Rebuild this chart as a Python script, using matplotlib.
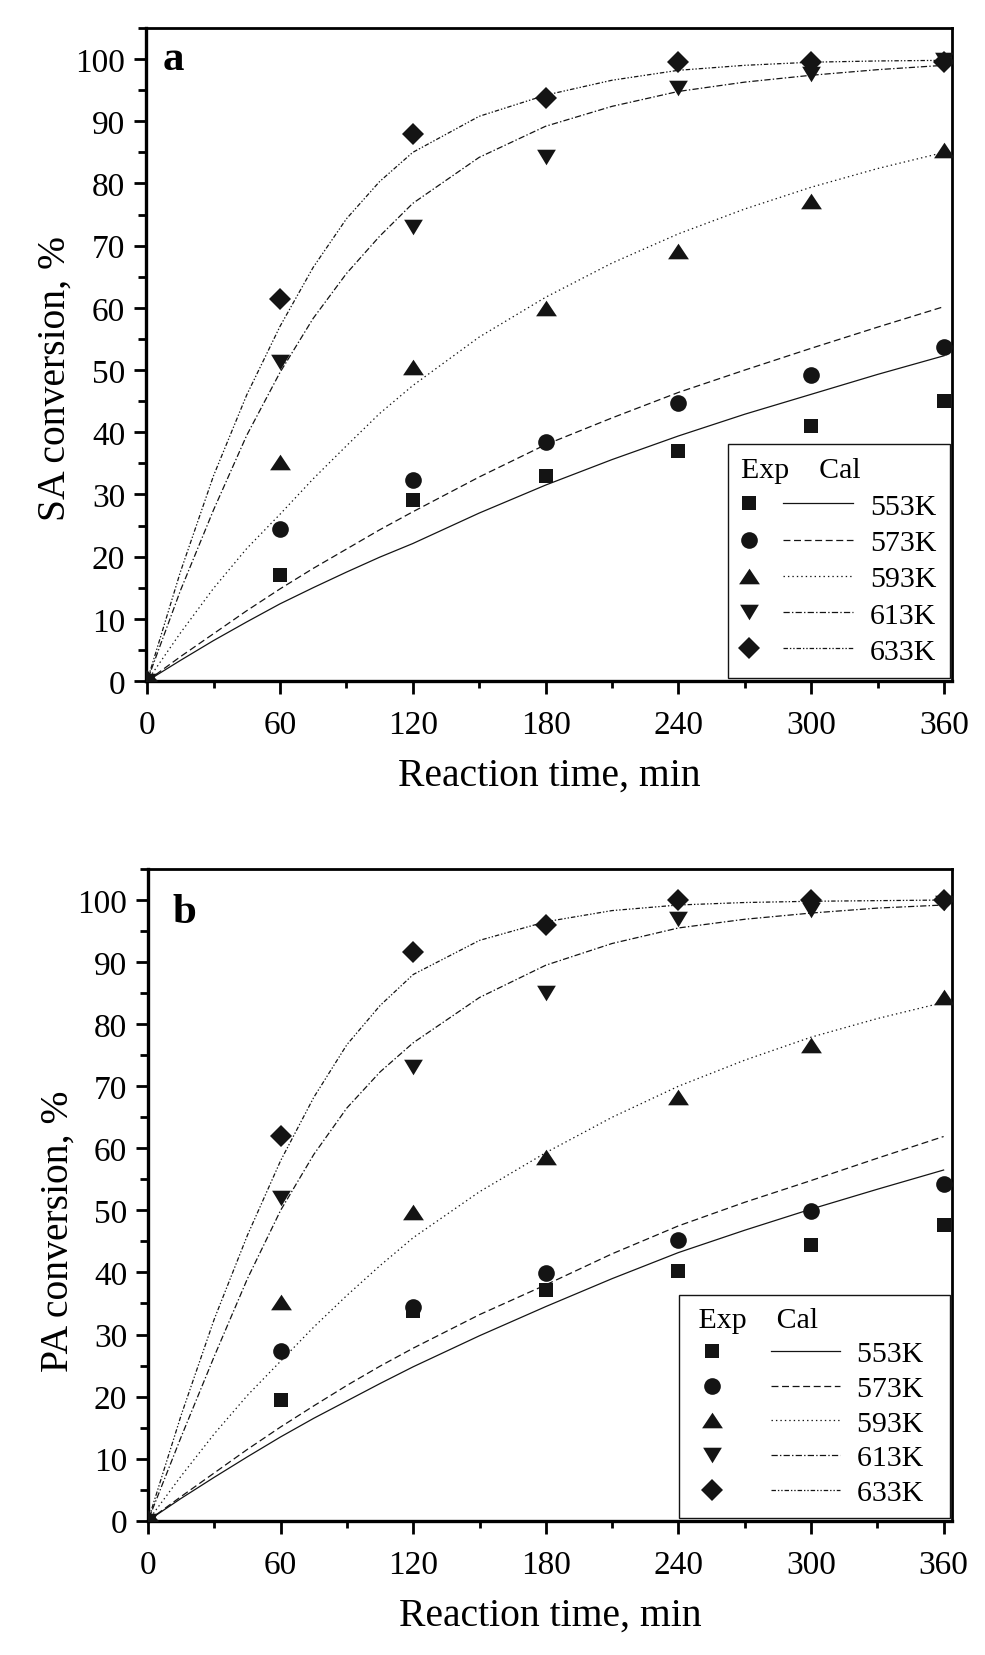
import numpy as np
import matplotlib
matplotlib.use("Agg")
import matplotlib.pyplot as plt
from matplotlib.ticker import MultipleLocator
from matplotlib.lines import Line2D
from matplotlib.path import Path
from matplotlib.legend_handler import HandlerBase

plt.rcParams['font.family'] = ['Liberation Serif', 'DejaVu Serif']
plt.rcParams['lines.scale_dashes'] = False

# ---------------- data ----------------
temps = ["553K", "573K", "593K", "613K", "633K"]
t_exp = [0, 60, 120, 180, 240, 300, 360]

sa_exp_553 = [0, 17.0, 29.1, 33.0, 37.0, 41.0, 45.0]
sa_exp_573 = [0, 24.4, 32.3, 38.4, 44.7, 49.2, 53.7]
sa_exp_593 = [0, 35.2, 50.5, 60.0, 69.1, 77.2, 85.4]
sa_exp_613 = [0, 51.3, 73.0, 84.2, 95.3, 97.6, 99.8]
sa_exp_633 = [0, 61.4, 87.9, 93.7, 99.5, 99.5, 99.5]

pa_exp_553 = [0, 19.4, 33.8, 37.1, 40.3, 44.5, 47.7]
pa_exp_573 = [0, 27.3, 34.4, 39.9, 45.3, 49.9, 54.2]
pa_exp_593 = [0, 35.3, 49.8, 58.6, 68.3, 76.6, 84.3]
pa_exp_613 = [0, 52.0, 73.1, 85.1, 97.0, 98.4, 99.6]
pa_exp_633 = [0, 62.0, 91.6, 96.0, 100.0, 100.0, 100.0]

t_cal = [0, 15, 30, 45, 60, 75, 90, 105, 120, 150, 180, 210, 240, 270, 300, 330, 360]

sa_cal_553 = [0, 3.3, 6.5, 9.5, 12.4, 15.0, 17.5, 19.9, 22.1, 27.0, 31.5, 35.6, 39.4, 42.9, 46.1, 49.3, 52.3]
sa_cal_573 = [0, 3.9, 7.6, 11.3, 14.8, 18.1, 21.2, 24.3, 27.2, 32.8, 38.0, 42.3, 46.4, 50.0, 53.5, 56.9, 60.2]
sa_cal_593 = [0, 7.7, 14.9, 21.3, 26.8, 32.5, 37.8, 43.0, 47.5, 55.3, 61.7, 67.2, 71.9, 75.9, 79.4, 82.4, 85.0]
sa_cal_613 = [0, 14.5, 27.5, 39.5, 49.6, 58.3, 65.5, 71.5, 76.8, 84.2, 89.2, 92.4, 94.8, 96.3, 97.4, 98.3, 99.0]
sa_cal_633 = [0, 17.5, 33.0, 46.0, 57.0, 66.5, 74.3, 80.3, 85.0, 90.8, 94.2, 96.6, 98.2, 99.0, 99.5, 99.7, 99.8]

pa_cal_553 = [0, 3.6, 7.0, 10.3, 13.5, 16.5, 19.3, 22.1, 24.8, 29.8, 34.5, 39.0, 43.2, 46.8, 50.2, 53.4, 56.5]
pa_cal_573 = [0, 3.9, 7.7, 11.5, 15.1, 18.5, 21.8, 24.9, 27.8, 33.2, 38.0, 43.0, 47.5, 51.3, 54.8, 58.4, 61.9]
pa_cal_593 = [0, 7.2, 14.0, 20.2, 25.7, 31.2, 36.3, 41.1, 45.6, 53.0, 59.3, 65.0, 70.0, 74.2, 77.9, 80.9, 83.5]
pa_cal_613 = [0, 13.5, 26.5, 39.0, 50.0, 59.0, 66.5, 72.3, 77.0, 84.3, 89.5, 93.0, 95.5, 96.9, 97.9, 98.7, 99.2]
pa_cal_633 = [0, 17.0, 32.5, 46.0, 58.0, 68.2, 76.7, 83.0, 88.0, 93.5, 96.5, 98.3, 99.2, 99.6, 99.8, 99.9, 100.0]

sa_exp = [sa_exp_553, sa_exp_573, sa_exp_593, sa_exp_613, sa_exp_633]
pa_exp = [pa_exp_553, pa_exp_573, pa_exp_593, pa_exp_613, pa_exp_633]
sa_cal = [sa_cal_553, sa_cal_573, sa_cal_593, sa_cal_613, sa_cal_633]
pa_cal = [pa_cal_553, pa_cal_573, pa_cal_593, pa_cal_613, pa_cal_633]

# ---------------- styles ----------------
tri_up = Path([(-1, -0.75), (1, -0.75), (0, 0.75), (-1, -0.75)],
              [Path.MOVETO, Path.LINETO, Path.LINETO, Path.CLOSEPOLY])
tri_dn = Path([(-1, 0.83), (1, 0.83), (0, -0.83), (-1, 0.83)],
              [Path.MOVETO, Path.LINETO, Path.LINETO, Path.CLOSEPOLY])
markers = ['s', 'o', tri_up, tri_dn, 'D']
msizes = [10.5, 12, 15, 13.5, 10.8]
lstyles = ['-', (0, (5, 2.6)), (0, (1, 2.2)), (0, (4.5, 1.6, 1, 1.6)),
           (0, (3.2, 1.4, 1, 1.4, 1, 1.4))]
ink = '#141414'
line_w = 0.9


class Entry:
    def __init__(self, marker, ms, ls):
        self.marker, self.ms, self.ls = marker, ms, ls


class MarkerLineHandler(HandlerBase):
    def __init__(self, mfrac, lstart, **kw):
        super().__init__(**kw)
        self.mfrac, self.lstart = mfrac, lstart

    def create_artists(self, legend, h, xdescent, ydescent, width, height, fontsize, trans):
        y = (height - ydescent) / 2
        m = Line2D([-xdescent + self.mfrac * width], [y], marker=h.marker, ms=h.ms,
                   color=ink, ls='none', mew=0)
        ln = Line2D([-xdescent + self.lstart * width, -xdescent + width], [y, y],
                    ls=h.ls, color=ink, lw=line_w)
        m.set_transform(trans)
        ln.set_transform(trans)
        return [ln, m]


fig = plt.figure(figsize=(9.85, 16.56), dpi=100)
axA = fig.add_axes([146 / 985, 1 - 682 / 1656, 806 / 985, 653 / 1656])
axB = fig.add_axes([148 / 985, 1 - 1521.7 / 1656, 804 / 985, 651.7 / 1656])


def panel(ax, exp, cal, ylabel, letter, letter_xy, xlim, ylab_y, leg_cfg):
    for i in range(5):
        ax.plot(t_cal, cal[i], ls=lstyles[i], color=ink, lw=line_w, zorder=2)
    for i in range(5):
        ax.plot(t_exp, exp[i], ls='none', marker=markers[i], ms=msizes[i],
                color=ink, mew=0, zorder=3)
    ax.set_xlim(*xlim)
    ax.set_ylim(0, 105)
    ax.xaxis.set_major_locator(MultipleLocator(60))
    ax.xaxis.set_minor_locator(MultipleLocator(30))
    ax.yaxis.set_major_locator(MultipleLocator(10))
    ax.yaxis.set_minor_locator(MultipleLocator(5))
    ax.tick_params(axis='both', which='both', direction='out', top=False, right=False)
    ax.tick_params(axis='x', which='major', length=9.5, width=2, pad=11, labelsize=24)
    ax.tick_params(axis='x', which='minor', length=5, width=2)
    ax.tick_params(axis='y', which='major', length=9, width=2, pad=6, labelsize=24)
    ax.tick_params(axis='y', which='minor', length=6, width=2)
    for s in ['left', 'bottom']:
        ax.spines[s].set_linewidth(2.4)
    for s in ['top', 'right']:
        ax.spines[s].set_linewidth(2.0)
    ax.set_xlabel("Reaction time, min", fontsize=28.5, labelpad=12)
    ax.set_ylabel(ylabel, fontsize=28.5)
    ax.yaxis.set_label_coords(-0.0893, ylab_y)
    ax.text(letter_xy[0], letter_xy[1], letter, transform=ax.transAxes,
            fontsize=31, fontweight='bold', va='baseline', ha='left')

    handles = [Entry(markers[i], msizes[i], lstyles[i]) for i in range(5)]
    labels = [tk + leg_cfg['suffix'] for tk in temps]
    leg = ax.legend(handles, labels,
                    handler_map={Entry: MarkerLineHandler(leg_cfg['mfrac'], leg_cfg['lstart'])},
                    loc='lower right', bbox_to_anchor=(0.9975, 0.004), borderaxespad=0,
                    fontsize=21.5, title=leg_cfg['title'], title_fontsize=21.5,
                    alignment='left', frameon=True, fancybox=False, shadow=False,
                    edgecolor=ink, framealpha=1, handlelength=leg_cfg['hl'],
                    handletextpad=0.57, labelspacing=leg_cfg['ls'], borderpad=leg_cfg['bp'])
    leg.get_frame().set_linewidth(1.0)


panel(axA, sa_exp, sa_cal, "SA conversion, %", "a", (0.021, 0.937), (-0.5, 363.6), 0.465,
      dict(title="Exp    Cal", suffix="", mfrac=0.07, lstart=0.375, hl=3.75, ls=0.315, bp=0.45))
panel(axB, pa_exp, pa_cal, "PA conversion, %", "b", (0.030, 0.919), (0, 363.8), 0.445,
      dict(title=" Exp    Cal", suffix="  ", mfrac=0.14, lstart=0.537, hl=4.98, ls=0.26, bp=0.4))

fig.savefig("out.png", dpi=100)
